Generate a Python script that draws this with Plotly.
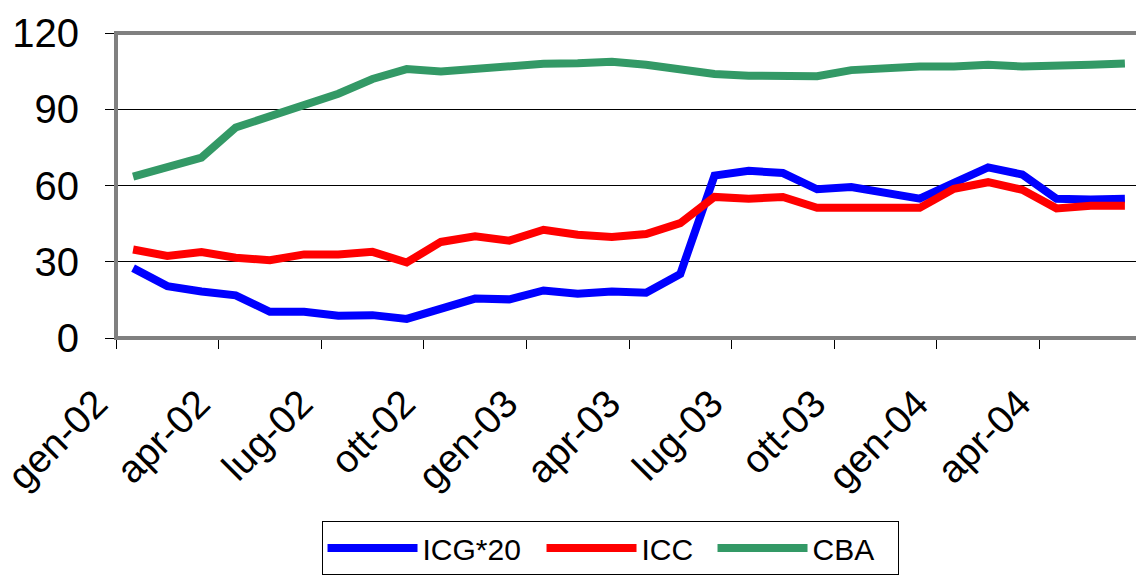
import plotly.graph_objects as go

months = ["gen-02", "feb-02", "mar-02", "apr-02", "mag-02", "giu-02", "lug-02", "ago-02", "set-02",
          "ott-02", "nov-02", "dic-02", "gen-03", "feb-03", "mar-03", "apr-03", "mag-03", "giu-03",
          "lug-03", "ago-03", "set-03", "ott-03", "nov-03", "dic-03", "gen-04", "feb-04", "mar-04",
          "apr-04", "mag-04", "giu-04"]

icg20 = [27.5, 20.4, 18.3, 16.8, 10.3, 10.3, 8.8, 9.0, 7.5, 11.6, 15.5, 15.2, 18.7, 17.4, 18.3,
         17.8, 25.2, 63.9, 65.8, 64.9, 58.5, 59.4, 57.0, 54.8, 61.0, 67.1, 64.3, 54.8, 54.5, 54.8]
icc = [34.8, 32.3, 33.8, 31.6, 30.6, 32.9, 32.9, 33.9, 29.7, 37.8, 40.0, 38.3, 42.6, 40.6, 39.7,
       40.9, 45.2, 55.5, 54.8, 55.5, 51.2, 51.2, 50.6, 51.2, 58.7, 61.3, 58.3, 51.0, 52.0, 52.0]
cba = [63.5, 67.1, 71.0, 82.8, 87.1, 91.4, 96.1, 101.9, 105.8, 104.9, 106.1, 106.8, 107.9, 108.1, 108.7,
       107.5, 105.5, 103.9, 103.2, 103.0, 103.0, 105.4, 106.2, 106.8, 106.8, 107.5, 106.8, 107.5, 107.5, 108.0]

series_names = ["ICG*20", "ICC", "CBA"]
series_values = [icg20, icc, cba]
series_colors = ["#0000FF", "#FF0000", "#339966"]
legend_widths = [114, 66, 80]
y_ticks = [0, 30, 60, 90, 120]

FONT = "Liberation Sans, Arial, sans-serif"

fig = go.Figure()
for name, vals, col, lw in zip(series_names, series_values, series_colors, legend_widths):
    fig.add_trace(go.Scatter(x=months, y=vals, name=name, mode="lines",
                             line=dict(color=col, width=8), legendwidth=lw))

n = len(months)
step = 3
bounds = [i - 0.5 for i in range(0, n + 1, step)]
labels = [months[i] if i < n else "" for i in range(0, n + 1, step)]

# invisible helper trace so the overlaid tick axis is drawn
fig.add_trace(go.Scatter(x=list(range(n)), y=[None] * n, xaxis="x2", yaxis="y",
                         showlegend=False, hoverinfo="skip", mode="lines"))

fig.update_layout(
    width=1136, height=569,
    margin=dict(l=108, r=2, t=25, b=234),
    paper_bgcolor="white", plot_bgcolor="white",
    font=dict(family=FONT, color="black"),
    xaxis=dict(type="category", categoryorder="array", categoryarray=months,
               range=[-0.5, n - 0.5], showticklabels=False, ticks="",
               showgrid=False, showline=False, zeroline=False, automargin=False),
    xaxis2=dict(overlaying="x", anchor="y", side="bottom", type="linear",
                range=[-0.5, n - 0.5], tickmode="array", tickvals=bounds, ticktext=labels,
                ticks="outside", ticklen=10, tickwidth=1, tickcolor="black",
                tickangle=-45, tickfont=dict(size=39, family=FONT, color="black"),
                ticklabelstandoff=16, ticklabelshift=-20, ticklabeloverflow="allow",
                automargin=False,
                showgrid=False, showline=False, zeroline=False),
    yaxis=dict(range=[0, 120], tickmode="array", tickvals=y_ticks,
               ticks="outside", ticklen=10, tickwidth=1, tickcolor="black",
               tickfont=dict(size=40, family=FONT, color="black"),
               ticklabelstandoff=18, automargin=False,
               showgrid=True, gridcolor="black", gridwidth=1,
               showline=True, linecolor="black", linewidth=1, zeroline=False),
    legend=dict(orientation="h", x=0.4815, xanchor="center", y=-0.6, yanchor="top",
                bordercolor="black", borderwidth=1, bgcolor="white",
                font=dict(size=30, family=FONT, color="black"),
                itemwidth=90, traceorder="normal"),
    showlegend=True,
)

fig.add_shape(type="rect", xref="paper", yref="paper", x0=0, x1=1, y0=0, y1=1,
              line=dict(color="#808080", width=4), layer="above")

fig.write_html("out.html")
